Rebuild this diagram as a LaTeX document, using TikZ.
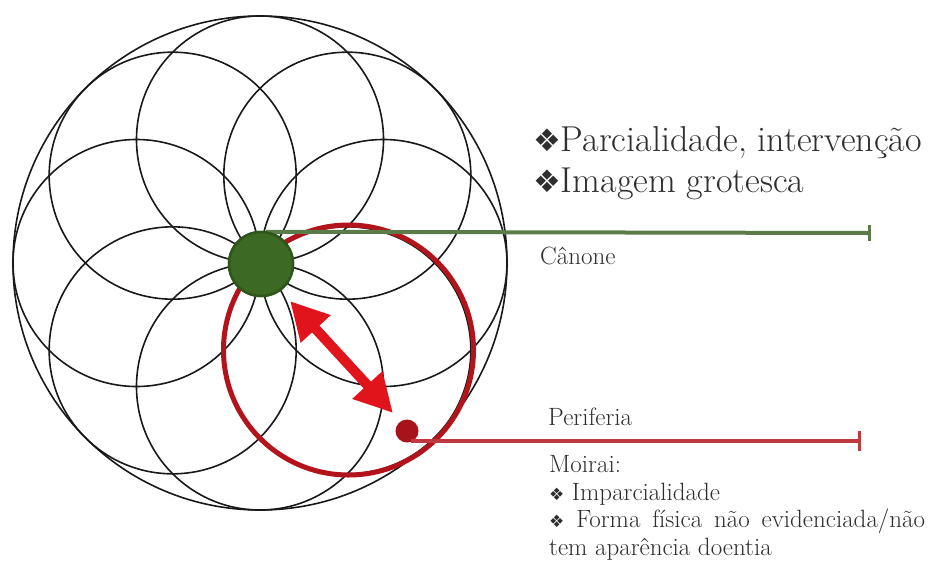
\documentclass[tikz,border=0pt]{standalone}
\usepackage{fontspec}
\newfontfamily\djv{DejaVu Sans}
\usetikzlibrary{arrows.meta}
\definecolor{txt}{HTML}{2E2E2E}
\definecolor{gline}{HTML}{5B7B49}
\definecolor{gdot}{HTML}{3C6A24}
\definecolor{gdotb}{HTML}{2E561B}
\definecolor{rring}{HTML}{B3141C}
\definecolor{rarrow}{HTML}{E1141C}
\definecolor{rdot}{HTML}{A8131B}
\definecolor{rline}{HTML}{C0393F}
\begin{document}
\begin{tikzpicture}[x=1pt,y=-1pt,
  petal/.style={draw=black!90, line width=1.6pt},
  lbl/.style={inner sep=0pt, anchor=base west, text=txt, font=\fontsize{25}{29}\selectfont},
  big/.style={inner sep=0pt, anchor=base west, text=txt, font=\fontsize{36}{42}\selectfont}]
\newcommand\bigbul{{\djv\fontsize{31}{31}\selectfont ❖}}
\newcommand\smbul{{\djv\fontsize{17}{17}\selectfont ❖}}
\useasboundingbox (0,0) rectangle (929,563);
\fill[white] (0,0) rectangle (929,563);
% flower of life
\coordinate (c) at (260,263);
\draw[petal] (c) circle (247);
\foreach \a in {0,45,...,315}
  \draw[petal, shift={(c)}] (\a:123.5) circle (123.5);
% red ring
\node[circle, draw=rring, line width=5pt, minimum size=250pt, inner sep=0pt] (ring) at (348.5,350) {};
% green dot
\node[circle, fill=gdot, draw=gdotb, line width=2.5pt, minimum size=64pt, inner sep=0pt] (g) at (261,264) {};
\coordinate (gend) at (869,233);
\draw[gline, line width=4pt] (g.north) ++(5,1) -- (gend);
\draw[gline, line width=3pt] ([yshift=-8]gend) -- ([yshift=8]gend);
\node[circle, fill=gdot, draw=gdotb, line width=2.5pt, minimum size=64pt, inner sep=0pt] at (g) {};
% red dot and line
\node[circle, fill=rdot, minimum size=23pt, inner sep=0pt] (r) at (407,431) {};
\coordinate (rend) at (859,441);
\draw[rline, line width=3.5pt] (r.center) ++(4,10) -- (rend);
\draw[rline, line width=3pt] ([yshift=-10]rend) -- ([yshift=10]rend);
% double arrow
\coordinate (a1) at (290,301);
\coordinate (a2) at (393,413);
\draw[rarrow, line width=10pt,
  {Triangle[length=38pt,width=38pt]}-{Triangle[length=38pt,width=38pt]}] (a1) -- (a2);
% texts
\node[big] (t1) at (533,151) {\bigbul Parcialidade, intervenção};
\node[big] (t2) at (533,192) {\bigbul Imagem grotesca};
\node[lbl] (can) at (540,264) {Cânone};
\node[lbl] (per) at (548,425) {Periferia};
\node[lbl] (moi) at (549,472) {Moirai:};
\node[lbl] (imp) at (549,500) {\smbul\ Imparcialidade};
\node[lbl] (for) at (549,527) {\makebox[376pt][s]{\smbul\ Forma física não evidenciada/não}};
\node[lbl] (tem) at (549,555) {tem aparência doentia};
\end{tikzpicture}
\end{document}
